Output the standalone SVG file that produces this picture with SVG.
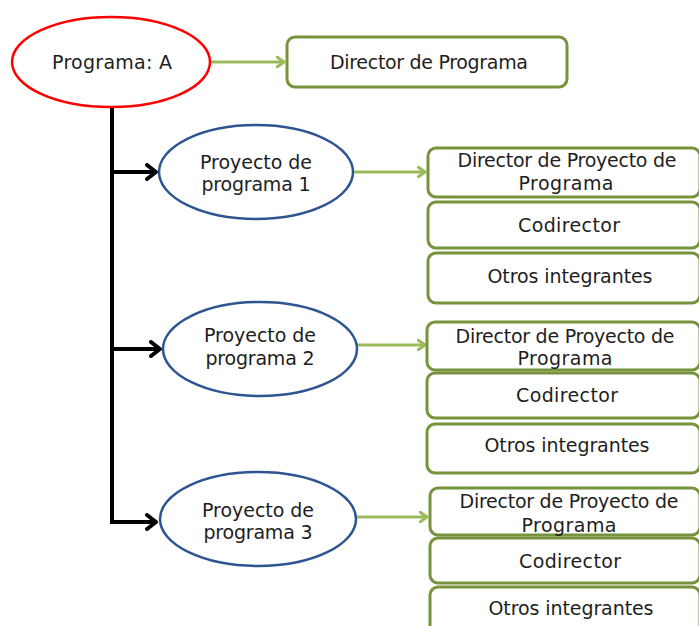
<svg xmlns="http://www.w3.org/2000/svg" width="699" height="626" viewBox="0 0 699 626">
<style>
text{font-family:"DejaVu Sans","Liberation Sans",sans-serif;font-size:19px;fill:#1e1e1e;text-anchor:middle}
.box{fill:#fff;stroke:#77933C;stroke-width:3}
.blue{fill:#fff;stroke:#2E5591;stroke-width:2.5}
.g{stroke:#9BBB59;stroke-width:3;fill:none}
.k{stroke:#000;stroke-width:4;fill:none}
</style>
<defs>
<marker id="ag" markerWidth="10" markerHeight="12" refX="8" refY="6" orient="auto" markerUnits="userSpaceOnUse">
<path d="M1,1 L8,6 L1,11" fill="none" stroke="#9BBB59" stroke-width="3" stroke-linecap="round" stroke-linejoin="round"/>
</marker>
<marker id="ak" markerWidth="14" markerHeight="18" refX="11" refY="9" orient="auto" markerUnits="userSpaceOnUse">
<path d="M2,2 L11,9 L2,16" fill="none" stroke="#000" stroke-width="4" stroke-linecap="round" stroke-linejoin="round"/>
</marker>
</defs>
<g id="connectors">
<line class="g" x1="211" y1="62" x2="284" y2="62" marker-end="url(#ag)"/>
<polyline class="k" points="112,108 112,522 156,522" marker-end="url(#ak)"/>
<line class="k" x1="112" y1="172" x2="156" y2="172" marker-end="url(#ak)"/>
<line class="k" x1="112" y1="349" x2="160" y2="349" marker-end="url(#ak)"/>
<line class="g" x1="353" y1="172" x2="425" y2="172" marker-end="url(#ag)"/>
<line class="g" x1="357" y1="345" x2="425" y2="345" marker-end="url(#ag)"/>
<line class="g" x1="357" y1="517" x2="427" y2="517" marker-end="url(#ag)"/>
</g>
<g id="programa">
<ellipse cx="111" cy="62" rx="99" ry="45" fill="#fff" stroke="#FF0000" stroke-width="2.5"/>
<text x="112" y="69" textLength="120">Programa: A</text>
</g>
<g id="director-programa">
<rect class="box" x="287" y="37" width="280" height="50" rx="8"/>
<text x="429" y="69" textLength="198">Director de Programa</text>
</g>
<g id="proyecto1">
<ellipse class="blue" cx="256" cy="172" rx="97" ry="47"/>
<text x="256" y="169" textLength="112">Proyecto de</text>
<text x="256" y="191" textLength="109">programa 1</text>
</g>
<g id="proyecto2">
<ellipse class="blue" cx="260" cy="349" rx="97" ry="47"/>
<text x="260" y="342" textLength="112">Proyecto de</text>
<text x="260" y="365" textLength="109">programa 2</text>
</g>
<g id="proyecto3">
<ellipse class="blue" cx="258" cy="519" rx="98" ry="47"/>
<text x="258" y="517" textLength="112">Proyecto de</text>
<text x="258" y="539" textLength="109">programa 3</text>
</g>
<g id="dir-proy1">
<rect class="box" x="428" y="148" width="272" height="49" rx="8"/>
<text x="567" y="167" textLength="219">Director de Proyecto de</text>
<text x="566" y="190" textLength="95">Programa</text>
</g>
<g id="codir1">
<rect class="box" x="428" y="202" width="272" height="46" rx="8"/>
<text x="569" y="232" textLength="102">Codirector</text>
</g>
<g id="otros1">
<rect class="box" x="428" y="253" width="272" height="50" rx="8"/>
<text x="570" y="283" textLength="165">Otros integrantes</text>
</g>
<g id="dir-proy2">
<rect class="box" x="427" y="322" width="273" height="48" rx="8"/>
<text x="565" y="343" textLength="219">Director de Proyecto de</text>
<text x="565" y="365" textLength="95">Programa</text>
</g>
<g id="codir2">
<rect class="box" x="427" y="373" width="273" height="45" rx="8"/>
<text x="567" y="402" textLength="102">Codirector</text>
</g>
<g id="otros2">
<rect class="box" x="427" y="424" width="273" height="49" rx="8"/>
<text x="567" y="452" textLength="165">Otros integrantes</text>
</g>
<g id="dir-proy3">
<rect class="box" x="430" y="488" width="270" height="47" rx="8"/>
<text x="569" y="508" textLength="219">Director de Proyecto de</text>
<text x="569" y="532" textLength="95">Programa</text>
</g>
<g id="codir3">
<rect class="box" x="430" y="538" width="270" height="45" rx="8"/>
<text x="570" y="568" textLength="102">Codirector</text>
</g>
<g id="otros3">
<rect class="box" x="430" y="587" width="270" height="50" rx="8"/>
<text x="571" y="615" textLength="165">Otros integrantes</text>
</g>
</svg>
